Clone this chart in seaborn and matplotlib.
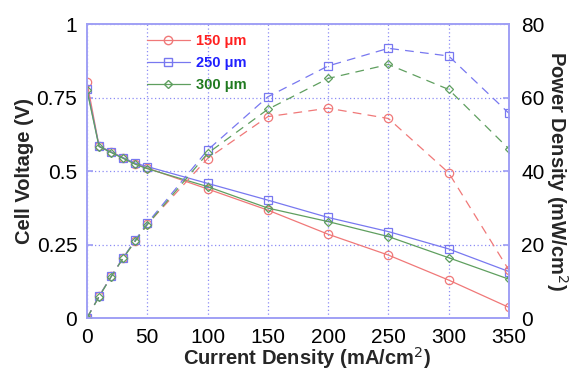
import numpy as np
import pandas as pd
import matplotlib
matplotlib.use("Agg")
import matplotlib.pyplot as plt
import seaborn as sns
from matplotlib.lines import Line2D

current = [0, 10, 20, 30, 40, 50, 100, 150, 200, 250, 300, 350]
labels = ["150 \u03bcm", "250 \u03bcm", "300 \u03bcm"]

volt_150 = [0.803, 0.585, 0.565, 0.545, 0.525, 0.51, 0.439, 0.367, 0.285, 0.214, 0.129, 0.036]
volt_250 = [0.780, 0.585, 0.565, 0.545, 0.527, 0.515, 0.458, 0.401, 0.342, 0.294, 0.235, 0.158]
volt_300 = [0.775, 0.583, 0.563, 0.543, 0.523, 0.508, 0.447, 0.374, 0.328, 0.277, 0.205, 0.132]

power_150 = [0, 5.9, 11.3, 16.4, 21.0, 25.5, 43.4, 54.8, 57.1, 54.3, 39.5, 13.0]
power_250 = [0, 5.9, 11.3, 16.4, 21.2, 25.8, 45.7, 60.2, 68.6, 73.4, 71.3, 55.7]
power_300 = [0, 5.8, 11.2, 16.3, 20.9, 25.4, 44.8, 56.8, 65.2, 69.0, 62.2, 46.0]

x_ticks = [0, 50, 100, 150, 200, 250, 300, 350]
v_ticks = [0, 0.25, 0.5, 0.75, 1]
v_tick_labels = ["0", "0.25", "0.5", "0.75", "1"]
p_ticks = [0, 20, 40, 60, 80]

sns.set_theme(style="white")
plt.rcParams['font.family'] = ['Liberation Sans', 'DejaVu Sans']

line_colors = ["#f07878", "#7878f0", "#5f9f5f"]
text_colors = ["#ff2020", "#2020ff", "#207a20"]
markers = ["o", "s", "D"]
msizes = [6, 6, 4]
grid_color = "#8c8cf5"

fig = plt.figure(figsize=(5.78, 3.70), dpi=100)
ax = fig.add_axes([0.1505, 0.1405, 0.7301, 0.7945])
ax2 = ax.twinx()

volts = [volt_150, volt_250, volt_300]
powers = [power_150, power_250, power_300]

for i in range(3):
    dfv = pd.DataFrame({"I": current, "V": volts[i]})
    dfp = pd.DataFrame({"I": current, "P": powers[i]})
    sns.lineplot(data=dfv, x="I", y="V", ax=ax, color=line_colors[i], lw=0.9,
                 marker=markers[i], markersize=msizes[i], markerfacecolor="none",
                 markeredgecolor=line_colors[i], markeredgewidth=0.9)
    sns.lineplot(data=dfp, x="I", y="P", ax=ax2, color=line_colors[i], lw=0.9,
                 linestyle=(0, (7, 5)),
                 marker=markers[i], markersize=msizes[i], markerfacecolor="none",
                 markeredgecolor=line_colors[i], markeredgewidth=0.9)

ax.set_xlim(0, 350)
ax.set_ylim(0, 1)
ax2.set_ylim(0, 80)
ax.set_xticks(x_ticks)
ax.set_yticks(v_ticks)
ax.set_yticklabels(v_tick_labels)
ax2.set_yticks(p_ticks)

ax.grid(True, color=grid_color, linestyle=(0, (1, 2)), linewidth=0.9)
ax.set_axisbelow(True)
for a in (ax, ax2):
    for s in a.spines.values():
        s.set_color("#a0a0f5")
        s.set_linewidth(1.2)
    a.tick_params(axis="both", direction="in", length=4, color="#a0a0f5",
                  labelsize=15, labelcolor="black")
ax.tick_params(axis="y", pad=7)
ax.tick_params(axis="x", pad=7)
ax2.tick_params(axis="y", pad=9)

ax.set_xlabel("Current Density (mA/cm$^2$)", fontsize=14.5, fontweight="bold", labelpad=0)
ax.xaxis.set_label_coords(0.52, -0.092)
ax.set_ylabel("Cell Voltage (V)", fontsize=14.5, fontweight="bold", labelpad=2)
ax2.set_ylabel("Power Density (mW/cm$^2$)", fontsize=14.5, fontweight="bold",
               rotation=270, labelpad=18)

handles = [Line2D([0], [0], color=line_colors[i], lw=0.9, marker=markers[i],
                  markersize=msizes[i], markerfacecolor="none",
                  markeredgecolor=line_colors[i]) for i in range(3)]
leg = ax2.legend(handles, labels, loc="upper left", bbox_to_anchor=(0.11, 1.01),
                 frameon=False, fontsize=10.5, handlelength=3.0, labelspacing=0.55,
                 handletextpad=0.4)
for t, c in zip(leg.get_texts(), text_colors):
    t.set_color(c)
    t.set_fontweight("bold")

fig.savefig("out.png", dpi=100)
